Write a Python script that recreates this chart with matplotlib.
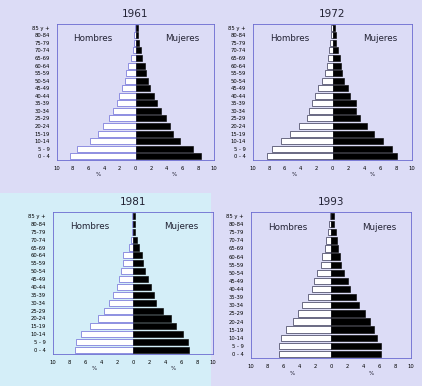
import matplotlib.pyplot as plt
from matplotlib.patches import Rectangle

# age groups, bottom (0-4) to top (85 y +)
ages = ["0 - 4", "5 - 9", "10-14", "15-19", "20-24", "25-29", "30-34", "35-39",
        "40-44", "45-49", "50-54", "55-59", "60-64", "65-69", "70-74", "75-79",
        "80-84", "85 y +"]

# % of population per group
hombres_1961 = [8.3, 7.4, 5.8, 4.8, 4.2, 3.4, 2.9, 2.4, 2.1, 1.75, 1.4, 1.2, 0.9, 0.6, 0.3, 0.2, 0.15, 0.1]
mujeres_1961 = [8.3, 7.3, 5.7, 4.8, 4.4, 3.9, 3.2, 2.8, 2.3, 1.9, 1.6, 1.3, 1.25, 0.8, 0.7, 0.4, 0.3, 0.3]

hombres_1972 = [8.2, 7.6, 6.5, 5.3, 4.25, 3.2, 2.9, 2.6, 2.2, 1.8, 1.3, 0.9, 0.7, 0.6, 0.4, 0.3, 0.15, 0.15]
mujeres_1972 = [8.1, 7.5, 6.3, 5.25, 4.4, 3.5, 2.9, 2.9, 2.25, 2.0, 1.5, 1.2, 1.1, 0.9, 0.75, 0.5, 0.4, 0.3]

hombres_1981 = [7.3, 7.1, 6.5, 5.4, 4.4, 3.6, 3.0, 2.5, 2.0, 1.75, 1.5, 1.25, 1.2, 0.5, 0.3, 0.15, 0.1, 0.1]
mujeres_1981 = [7.0, 6.9, 6.2, 5.4, 4.7, 3.75, 2.9, 2.6, 2.2, 1.9, 1.5, 1.25, 1.1, 0.75, 0.5, 0.3, 0.25, 0.25]

hombres_1993 = [6.5, 6.5, 6.3, 5.6, 4.75, 4.1, 3.6, 2.9, 2.4, 2.1, 1.75, 1.3, 1.15, 0.8, 0.6, 0.35, 0.25, 0.15]
mujeres_1993 = [6.2, 6.2, 5.8, 5.4, 4.9, 4.25, 3.5, 3.1, 2.4, 2.1, 1.65, 1.25, 1.15, 0.9, 0.75, 0.6, 0.4, 0.35]

xticks = [-10, -8, -6, -4, -2, 0, 2, 4, 6, 8, 10]

panels = [
    ("1961", hombres_1961, mujeres_1961, [57/422, 226/386, 157/422, 136/386], "#8080dd"),
    ("1972", hombres_1972, mujeres_1972, [253/422, 226/386, 159/422, 136/386], "#555570"),
    ("1981", hombres_1981, mujeres_1981, [53/422, 32/386, 160/422, 142/386], "#8080dd"),
    ("1993", hombres_1993, mujeres_1993, [251/422, 28/386, 160/422, 146/386], "#555570"),
]

fig = plt.figure(figsize=(4.22, 3.86), dpi=100)
fig.patch.set_facecolor("#dcdcf6")
# the scan has a cyan cast in the lower-left quarter
fig.patches.append(Rectangle((0, 0), 0.5, 0.5, transform=fig.transFigure,
                             facecolor="#d4eef8", edgecolor="none", zorder=-10))

pos = list(range(len(ages)))
for year, hom, muj, rect, edge in panels:
    ax = fig.add_axes(rect)
    ax.set_zorder(2)
    ax.set_facecolor("none")
    ax.barh(pos, [-v for v in hom], height=0.78, color="white",
            edgecolor=edge, linewidth=0.6)
    ax.barh(pos, muj, height=0.78, color="black", edgecolor="black", linewidth=0.4)
    ax.set_xlim(-10, 10)
    ax.set_ylim(-0.5, len(ages) - 0.5)
    ax.set_xticks(xticks)
    ax.set_xticklabels([str(abs(t)) for t in xticks])
    ax.set_yticks(pos)
    ax.set_yticklabels(ages)
    ax.tick_params(axis="both", labelsize=3.8, length=0, pad=4)
    ax.tick_params(axis="y", pad=5)
    for s in ax.spines.values():
        s.set_color("#6a6ad0")
        s.set_linewidth(0.6)
    ax.set_title(year, fontsize=7.5, pad=5, color="#222233")
    ax.text(-5.4, 15.6, "Hombres", fontsize=6.3, ha="center", va="center", color="#222233")
    ax.text(6.0, 15.6, "Mujeres", fontsize=6.3, ha="center", va="center", color="#222233")
    ax.text(-4.8, -2.4, "%", fontsize=4, ha="center", va="center",
            color="#222233", clip_on=False)
    ax.text(5.0, -2.4, "%", fontsize=4, ha="center", va="center",
            color="#222233", clip_on=False)

plt.savefig("out.png", dpi=100, facecolor=fig.get_facecolor())
